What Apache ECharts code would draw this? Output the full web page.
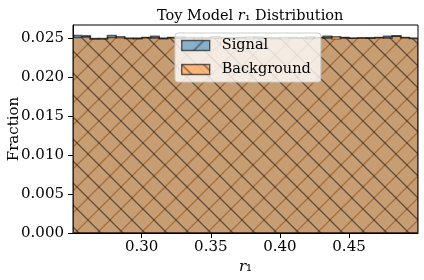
<!DOCTYPE html>
<html><head><meta charset="utf-8">
<script src="https://cdn.jsdelivr.net/npm/echarts@6/dist/echarts.min.js"></script>
<style>html,body{margin:0;padding:0;background:#fff}#c{width:424px;height:280px}</style>
</head><body><div id="c"></div>
<script>
const xMin = 0.2503, xMax = 0.4999;
const yMin = 0, yMax = 0.0267;
const xTicks = [0.30, 0.35, 0.40, 0.45];
const yTicks = [0.000, 0.005, 0.010, 0.015, 0.020, 0.025];
const seriesNames = ['Signal', 'Background'];
const signal = [
  0.02535, 0.02530, 0.02495, 0.02490, 0.02535, 0.02505, 0.02495, 0.02500, 0.02505, 0.02525,
  0.02500, 0.02505, 0.02515, 0.02495, 0.02510, 0.02500, 0.02520, 0.02495, 0.02505, 0.02510,
  0.02495, 0.02515, 0.02500, 0.02505, 0.02490, 0.02510, 0.02500, 0.02515, 0.02505, 0.02525,
  0.02490, 0.02510, 0.02500, 0.02500, 0.02505, 0.02505, 0.02525, 0.02530, 0.02505, 0.02495
];
const background = [
  0.02510, 0.02515, 0.02490, 0.02495, 0.02510, 0.02520, 0.02500, 0.02495, 0.02510, 0.02505,
  0.02495, 0.02510, 0.02500, 0.02510, 0.02495, 0.02505, 0.02500, 0.02510, 0.02495, 0.02505,
  0.02515, 0.02500, 0.02505, 0.02495, 0.02510, 0.02500, 0.02505, 0.02495, 0.02510, 0.02505,
  0.02520, 0.02505, 0.02500, 0.02505, 0.02500, 0.02510, 0.02505, 0.02525, 0.02510, 0.02500
];

const FONT = "'DejaVu Serif', serif";

function hatch(fill, line, dir) {
  const s = 22;
  const c = document.createElement('canvas');
  c.width = s; c.height = s;
  const g = c.getContext('2d');
  g.fillStyle = fill; g.fillRect(0, 0, s, s);
  g.strokeStyle = line; g.lineWidth = 1.3;
  g.beginPath();
  if (dir === '/') {
    g.moveTo(-2, s + 2); g.lineTo(s + 2, -2);
    g.moveTo(-2, 2); g.lineTo(2, -2);
    g.moveTo(s - 2, s + 2); g.lineTo(s + 2, s - 2);
  } else {
    g.moveTo(-2, -2); g.lineTo(s + 2, s + 2);
    g.moveTo(s - 2, -2); g.lineTo(s + 2, 2);
    g.moveTo(-2, s - 2); g.lineTo(2, s + 2);
  }
  g.stroke();
  return c;
}
const patterns = [
  {image: hatch('rgba(31,119,180,0.5)', 'rgba(0,0,0,0.5)', '/'), repeat: 'repeat'},
  {image: hatch('rgba(255,127,14,0.5)', 'rgba(0,0,0,0.5)', '\\'), repeat: 'repeat'}
];
const edge = 'rgba(0,0,0,0.6)';
const dataSets = [signal, background];

function renderHist(params, api) {
  const vals = dataSets[params.seriesIndex];
  const w = (xMax - xMin) / vals.length;
  const pts = [api.coord([xMin, 0])];
  vals.forEach((v, i) => {
    pts.push(api.coord([xMin + i * w, v]));
    pts.push(api.coord([xMin + (i + 1) * w, v]));
  });
  pts.push(api.coord([xMax, 0]));
  return {
    type: 'group',
    children: [
      {type: 'polygon', shape: {points: pts}, style: {fill: patterns[params.seriesIndex], stroke: null}},
      {type: 'polygon', shape: {points: pts}, style: {fill: null, stroke: edge, lineWidth: 1.6}}
    ]
  };
}

const chart = echarts.init(document.getElementById('c'), null, {renderer: 'canvas'});
chart.setOption({
  animation: false,
  backgroundColor: '#fff',
  title: {
    text: 'Toy Model {i|r}₁ Distribution',
    left: 152, top: 4,
    textStyle: {fontFamily: FONT, fontSize: 14.5, fontWeight: 'normal', color: '#000',
      rich: {i: {fontFamily: FONT, fontSize: 14.5, fontStyle: 'italic', color: '#000'}}}
  },
  legend: {
    orient: 'vertical', left: 175, top: 33,
    padding: [5, 10, 5, 6], itemGap: 9, itemWidth: 28, itemHeight: 10,
    backgroundColor: 'rgba(255,255,255,0.8)', borderColor: '#ccc', borderWidth: 1, borderRadius: 3,
    textStyle: {fontFamily: FONT, fontSize: 14.5, color: '#000', padding: [0, 0, 0, 7]},
    data: seriesNames.map((n, k) => ({name: n, icon: 'rect',
      itemStyle: {color: patterns[k], borderColor: edge, borderWidth: 1.4}}))
  },
  grid: {left: 73, right: 6, top: 25, bottom: 47, containLabel: false, outerBoundsMode: 'none',
    show: true, borderColor: '#000', borderWidth: 1, backgroundColor: 'transparent'},
  xAxis: {
    type: 'value', min: xMin, max: xMax,
    name: '{i|r}₁', nameLocation: 'middle', nameGap: 27, nameMoveOverlap: false,
    nameTextStyle: {fontFamily: FONT, fontSize: 15, color: '#000', rich: {i: {fontFamily: FONT, fontSize: 15, fontStyle: 'italic', color: '#000'}}},
    axisLine: {show: true, lineStyle: {color: '#000', width: 1}},
    axisTick: {show: true, length: 5, lineStyle: {color: '#000'}, customValues: xTicks},
    axisLabel: {fontFamily: FONT, fontSize: 15, color: '#000', margin: 7, customValues: xTicks,
      formatter: v => v.toFixed(2)},
    splitLine: {show: false}
  },
  yAxis: {
    type: 'value', min: yMin, max: yMax,
    name: 'Fraction', nameLocation: 'middle', nameGap: 51, nameRotate: 90, nameMoveOverlap: false,
    nameTextStyle: {fontFamily: FONT, fontSize: 15, color: '#000'},
    axisLine: {show: true, lineStyle: {color: '#000', width: 1}},
    axisTick: {show: true, length: 5, lineStyle: {color: '#000'}, customValues: yTicks},
    axisLabel: {fontFamily: FONT, fontSize: 15, color: '#000', margin: 9, customValues: yTicks,
      formatter: v => v.toFixed(3)},
    splitLine: {show: false}
  },
  series: seriesNames.map((n, k) => ({
    name: n, type: 'custom', renderItem: renderHist,
    itemStyle: {color: patterns[k], borderColor: edge, borderWidth: 1.4},
    encode: {x: 0, y: 1},
    data: [[(xMin + xMax) / 2, dataSets[k][0]]],
    clip: true, z: 2 + k
  }))
});
</script></body></html>
